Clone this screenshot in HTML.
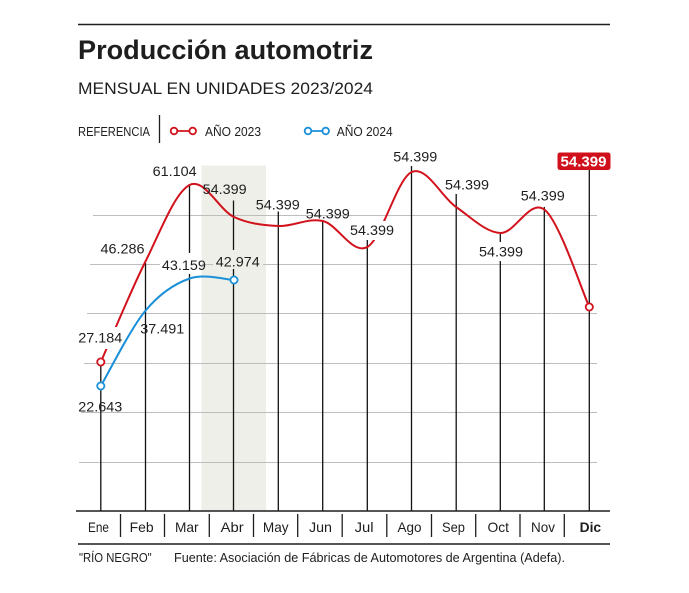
<!DOCTYPE html>
<html>
<head>
<meta charset="utf-8">
<style>
  html,body{margin:0;padding:0;background:#fff;}
  svg{display:block;}
  text{font-family:"Liberation Sans", sans-serif;fill:#1e1e1e;}
</style>
</head>
<body>
<svg width="689" height="593" viewBox="0 0 689 593" xmlns="http://www.w3.org/2000/svg">
  <rect x="0" y="0" width="689" height="593" fill="#fff"/>
  <!-- top rule -->
  <line x1="78" y1="24.5" x2="610" y2="24.5" stroke="#1e1e1e" stroke-width="1.5"/>
  <!-- title -->
  <text x="78" y="59" font-size="27" font-weight="bold" textLength="295" lengthAdjust="spacingAndGlyphs">Producción automotriz</text>
  <text x="78" y="94" font-size="17" textLength="295" lengthAdjust="spacingAndGlyphs">MENSUAL EN UNIDADES 2023/2024</text>
  <!-- legend -->
  <text x="78" y="136" font-size="13" textLength="72" lengthAdjust="spacingAndGlyphs">REFERENCIA</text>
  <line x1="159.5" y1="115" x2="159.5" y2="143" stroke="#1e1e1e" stroke-width="1.3"/>
  <line x1="174" y1="131" x2="192.7" y2="131" stroke="#d2121c" stroke-width="1.8"/>
  <circle cx="174" cy="131" r="3.3" fill="#fff" stroke="#d2121c" stroke-width="1.8"/>
  <circle cx="192.7" cy="131" r="3.3" fill="#fff" stroke="#d2121c" stroke-width="1.8"/>
  <text x="205" y="136" font-size="13" textLength="56" lengthAdjust="spacingAndGlyphs">AÑO 2023</text>
  <line x1="308" y1="131" x2="325.7" y2="131" stroke="#1a90d8" stroke-width="1.8"/>
  <circle cx="308" cy="131" r="3.3" fill="#fff" stroke="#1a90d8" stroke-width="1.8"/>
  <circle cx="325.7" cy="131" r="3.3" fill="#fff" stroke="#1a90d8" stroke-width="1.8"/>
  <text x="336.7" y="136" font-size="13" textLength="56" lengthAdjust="spacingAndGlyphs">AÑO 2024</text>

  <!-- shade -->
  <rect x="201.5" y="165.5" width="64.5" height="345.5" fill="#efefe9"/>

  <!-- gridlines -->
  <g stroke="#bdbdbd" stroke-width="1">
    <line x1="93" y1="215.5" x2="597" y2="215.5"/>
    <line x1="90" y1="264.5" x2="597" y2="264.5"/>
    <line x1="87" y1="313.5" x2="597" y2="313.5"/>
    <line x1="84" y1="363.5" x2="597" y2="363.5"/>
    <line x1="81" y1="412.5" x2="597" y2="412.5"/>
    <line x1="79" y1="462.5" x2="597" y2="462.5"/>
  </g>

  <!-- vertical month lines -->
  <g stroke="#111" stroke-width="1.3">
    <line x1="100.8" y1="362" x2="100.8" y2="511"/>
    <line x1="145.5" y1="263" x2="145.5" y2="511"/>
    <line x1="189.5" y1="184" x2="189.5" y2="511"/>
    <line x1="233.5" y1="200.5" x2="233.5" y2="511"/>
    <line x1="278.3" y1="211.5" x2="278.3" y2="511"/>
    <line x1="322.7" y1="221.5" x2="322.7" y2="511"/>
    <line x1="367.3" y1="236.5" x2="367.3" y2="511"/>
    <line x1="411.5" y1="166" x2="411.5" y2="511"/>
    <line x1="456.2" y1="194" x2="456.2" y2="511"/>
    <line x1="500.3" y1="233" x2="500.3" y2="511"/>
    <line x1="544.3" y1="207" x2="544.3" y2="511"/>
    <line x1="589.3" y1="169" x2="589.3" y2="511"/>
  </g>

  <!-- red series -->
  <path d="M100.8,362 C108.2,345.3 130.4,291.5 145.2,262 C160,232.5 174.8,192.5 189.6,185 C204.4,177.5 219.2,210.2 234,217 C248.8,223.8 263.6,225.3 278.4,226 C293.2,226.7 308.1,217.5 322.9,221 C337.7,224.5 352.5,255.2 367.3,247 C382.1,238.8 396.9,178.7 411.7,172 C426.5,165.3 441.3,196.8 456.1,207 C470.9,217.2 485.7,232.5 500.5,233 C515.3,233.5 530.1,197.7 544.9,210 C559.7,222.3 581.9,290.8 589.3,307" fill="none" stroke="#d2121c" stroke-width="2"/>

  <!-- label knockouts -->
  <rect x="76" y="327" width="49" height="22" fill="#fff"/>
  <rect x="160" y="253" width="41.5" height="21" fill="#fff"/>
  <rect x="213" y="250" width="50" height="19" fill="#efefe9"/>
  <rect x="348" y="221" width="48" height="19" fill="#fff"/>
  <rect x="477" y="242" width="48" height="19" fill="#fff"/>

  <!-- blue series (drawn after knockouts so it stays continuous) -->
  <path d="M100.8,386 C108.2,373.5 130.4,328.9 145.2,311 C160,293.1 174.8,283.7 189.6,278.5 C204.4,273.3 226.6,279.75 234,280" fill="none" stroke="#1a90d8" stroke-width="2"/>

  <!-- markers -->
  <circle cx="100.8" cy="362" r="3.6" fill="#fff" stroke="#d2121c" stroke-width="1.8"/>
  <circle cx="589.3" cy="307" r="3.6" fill="#fff" stroke="#d2121c" stroke-width="1.8"/>
  <circle cx="100.8" cy="386" r="3.6" fill="#fff" stroke="#1a90d8" stroke-width="1.8"/>
  <circle cx="234" cy="280" r="3.6" fill="#fff" stroke="#1a90d8" stroke-width="1.8"/>

  <!-- data labels -->
  <g font-size="14">
    <text x="78.3" y="342.7" textLength="44" lengthAdjust="spacingAndGlyphs">27.184</text>
    <text x="78.3" y="411.7" textLength="44" lengthAdjust="spacingAndGlyphs">22.643</text>
    <text x="100.5" y="253.3" textLength="44" lengthAdjust="spacingAndGlyphs">46.286</text>
    <text x="140.3" y="333.3" textLength="44" lengthAdjust="spacingAndGlyphs">37.491</text>
    <text x="152.7" y="176" textLength="44" lengthAdjust="spacingAndGlyphs">61.104</text>
    <text x="161.9" y="270" textLength="44" lengthAdjust="spacingAndGlyphs">43.159</text>
    <text x="202.7" y="194" textLength="44" lengthAdjust="spacingAndGlyphs">54.399</text>
    <text x="215.8" y="266.7" textLength="44" lengthAdjust="spacingAndGlyphs">42.974</text>
    <text x="255.8" y="209.3" textLength="44" lengthAdjust="spacingAndGlyphs">54.399</text>
    <text x="305.8" y="218.3" textLength="44" lengthAdjust="spacingAndGlyphs">54.399</text>
    <text x="350" y="235" textLength="44" lengthAdjust="spacingAndGlyphs">54.399</text>
    <text x="393.3" y="161.7" textLength="44" lengthAdjust="spacingAndGlyphs">54.399</text>
    <text x="445" y="189.3" textLength="44" lengthAdjust="spacingAndGlyphs">54.399</text>
    <text x="479" y="256.7" textLength="44" lengthAdjust="spacingAndGlyphs">54.399</text>
    <text x="520.8" y="200.7" textLength="44" lengthAdjust="spacingAndGlyphs">54.399</text>
  </g>
  <!-- badge -->
  <rect x="557.5" y="152.5" width="53" height="17.5" rx="2.5" fill="#d0101b"/>
  <text x="560.5" y="166.5" font-size="14.5" font-weight="bold" fill="#fff" style="fill:#fff" textLength="46" lengthAdjust="spacingAndGlyphs">54.399</text>

  <!-- axis -->
  <line x1="76" y1="511" x2="610" y2="511" stroke="#1e1e1e" stroke-width="1.5"/>
  <line x1="78" y1="544" x2="610" y2="544" stroke="#1e1e1e" stroke-width="1.5"/>
  <g stroke="#1e1e1e" stroke-width="1.3">
    <line x1="120.5" y1="514" x2="120.5" y2="537"/>
    <line x1="164.5" y1="514" x2="164.5" y2="537"/>
    <line x1="209.3" y1="514" x2="209.3" y2="537"/>
    <line x1="253.5" y1="514" x2="253.5" y2="537"/>
    <line x1="297.7" y1="514" x2="297.7" y2="537"/>
    <line x1="342.2" y1="514" x2="342.2" y2="537"/>
    <line x1="386.8" y1="514" x2="386.8" y2="537"/>
    <line x1="431.5" y1="514" x2="431.5" y2="537"/>
    <line x1="475.7" y1="514" x2="475.7" y2="537"/>
    <line x1="520" y1="514" x2="520" y2="537"/>
    <line x1="564.3" y1="514" x2="564.3" y2="537"/>
  </g>
  <g font-size="14">
    <text x="88" y="532" textLength="21" lengthAdjust="spacingAndGlyphs">Ene</text>
    <text x="129.6" y="532" textLength="24" lengthAdjust="spacingAndGlyphs">Feb</text>
    <text x="175" y="532" textLength="23.6" lengthAdjust="spacingAndGlyphs">Mar</text>
    <text x="220.7" y="532" textLength="23" lengthAdjust="spacingAndGlyphs">Abr</text>
    <text x="262.9" y="532" textLength="25.7" lengthAdjust="spacingAndGlyphs">May</text>
    <text x="309" y="532" textLength="23" lengthAdjust="spacingAndGlyphs">Jun</text>
    <text x="354.6" y="532" textLength="19" lengthAdjust="spacingAndGlyphs">Jul</text>
    <text x="397.5" y="532" textLength="24" lengthAdjust="spacingAndGlyphs">Ago</text>
    <text x="442" y="532" textLength="23" lengthAdjust="spacingAndGlyphs">Sep</text>
    <text x="487.5" y="532" textLength="21.5" lengthAdjust="spacingAndGlyphs">Oct</text>
    <text x="531" y="532" textLength="24" lengthAdjust="spacingAndGlyphs">Nov</text>
    <text x="579.6" y="532" font-weight="bold" textLength="21.5" lengthAdjust="spacingAndGlyphs">Dic</text>
  </g>

  <!-- footer -->
  <text x="79" y="562" font-size="12.5" textLength="72.7" lengthAdjust="spacingAndGlyphs">"RÍO NEGRO"</text>
  <text x="174" y="562" font-size="12.5" textLength="391" lengthAdjust="spacingAndGlyphs">Fuente: Asociación de Fábricas de Automotores de Argentina (Adefa).</text>
</svg>
</body>
</html>
